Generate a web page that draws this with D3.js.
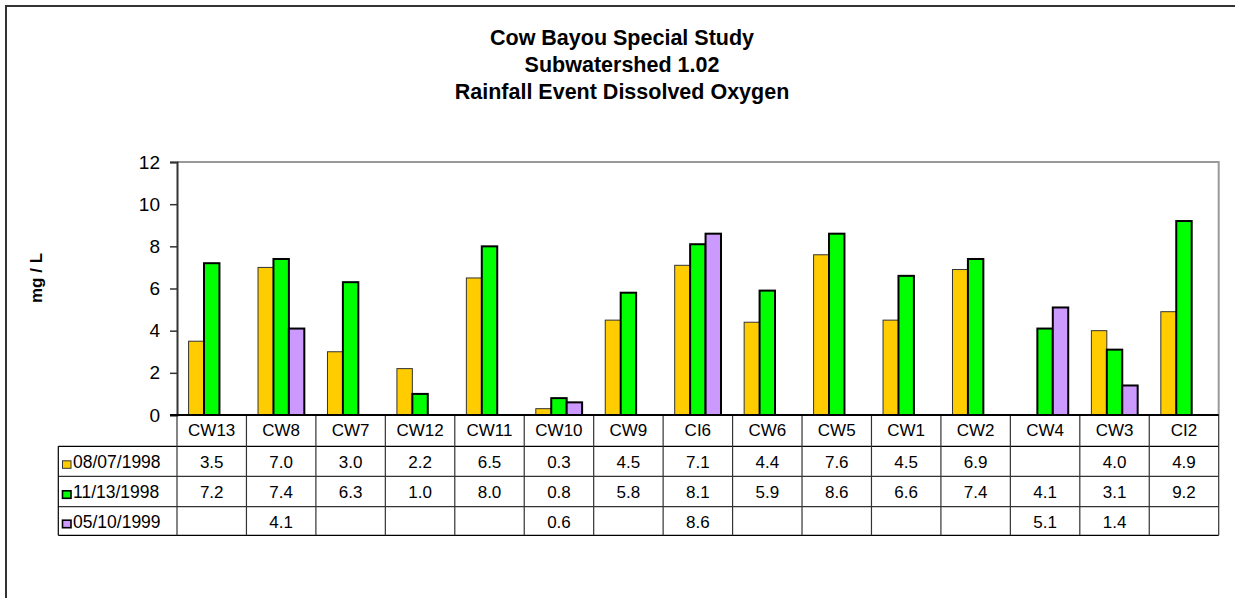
<!DOCTYPE html>
<html>
<head>
<meta charset="utf-8">
<script src="https://cdn.jsdelivr.net/npm/d3@7"></script>
<style>
  html, body { margin: 0; padding: 0; background: #fff; }
  svg { display: block; font-family: Arial, "Liberation Sans", sans-serif; }
</style>
</head>
<body>
<svg id="chart" width="1235" height="598"></svg>
<script>
// ---- data ----
const categories = ["CW13","CW8","CW7","CW12","CW11","CW10","CW9","CI6","CW6","CW5","CW1","CW2","CW4","CW3","CI2"];
const seriesNames = ["08/07/1998","11/13/1998","05/10/1999"];
const s1 = [3.5, 7.0, 3.0, 2.2, 6.5, 0.3, 4.5, 7.1, 4.4, 7.6, 4.5, 6.9, null, 4.0, 4.9];
const s2 = [7.2, 7.4, 6.3, 1.0, 8.0, 0.8, 5.8, 8.1, 5.9, 8.6, 6.6, 7.4, 4.1, 3.1, 9.2];
const s3 = [null, 4.1, null, null, null, 0.6, null, 8.6, null, null, null, null, 5.1, 1.4, null];
const yTicks = [0, 2, 4, 6, 8, 10, 12];
const titleLines = ["Cow Bayou Special Study", "Subwatershed 1.02", "Rainfall Event Dissolved Oxygen"];
const yTitle = "mg / L";

const seriesValues = [s1, s2, s3];
const fills = ["#FFCC00", "#00FF00", "#CC99FF"];
const strokes = ["#333", "#000", "#000"];
const strokeW = [1, 2, 2];

// ---- layout ----
const svg = d3.select("#chart");
const L = 177, R = 1218.7, T = 162, B = 415;
const legendLeft = 58.3;
const rowLines = [446.3, 476.3, 506.7, 535.3];

// outer border
svg.append("rect").attr("x", 6).attr("y", 6).attr("width", 1300).attr("height", 700)
  .attr("fill", "none").attr("stroke", "#333").attr("stroke-width", 2);

// title
svg.append("g").selectAll("text").data(titleLines).join("text")
  .attr("x", 622).attr("y", (d, i) => 44.5 + i * 27)
  .attr("text-anchor", "middle").attr("font-weight", "bold").attr("font-size", 21.5)
  .attr("fill", "#000").text(d => d);

// scales
const x = d3.scaleBand().domain(categories).range([L, R]).paddingInner(0).paddingOuter(0);
const y = d3.scaleLinear().domain([0, 12]).range([B, T]);
const bw = x.bandwidth();
const barW = bw / (3 + 1.5);
const xs = d3.scaleBand().domain([0, 1, 2]).range([bw * 0.75 / 4.5 * 1.5 / 1.5 * 0 + barW * 0.75, barW * 0.75 + 3 * barW]).padding(0);

// plot area border (top/right gray)
svg.append("path")
  .attr("d", `M${L},${T}H${R}V${B}`)
  .attr("fill", "none").attr("stroke", "#999").attr("stroke-width", 2);

// bars
const bars = svg.append("g");
seriesValues.forEach((vals, si) => {
  bars.append("g").selectAll("rect")
    .data(vals.map((v, i) => ({ v, c: categories[i] })).filter(d => d.v !== null))
    .join("rect")
    .attr("x", d => x(d.c) + xs(si))
    .attr("y", d => y(d.v))
    .attr("width", xs.bandwidth())
    .attr("height", d => y(0) - y(d.v))
    .attr("fill", fills[si])
    .attr("stroke", strokes[si])
    .attr("stroke-width", strokeW[si]);
});

// y axis
const yAxis = d3.axisLeft(y).tickValues(yTicks).tickSize(7).tickPadding(10).tickFormat(d3.format("d"));
const gy = svg.append("g").attr("transform", `translate(${L},0)`).call(yAxis);
gy.select(".domain").attr("stroke", "#333").attr("stroke-width", 2);
gy.selectAll(".tick line").attr("stroke", "#333").attr("stroke-width", 1.5);
gy.selectAll(".tick text").attr("font-size", 19).attr("fill", "#000")
  .attr("font-family", "Arial, 'Liberation Sans', sans-serif");

// y title
svg.append("text")
  .attr("transform", `translate(42,278) rotate(-90)`)
  .attr("text-anchor", "middle").attr("font-weight", "bold").attr("font-size", 17)
  .text(yTitle);

// ---- data table ----
const tbl = svg.append("g");
const lineColor = "#333";
// horizontal row lines
rowLines.forEach((ry, i) => {
  tbl.append("line").attr("x1", legendLeft).attr("x2", R).attr("y1", ry).attr("y2", ry)
    .attr("stroke", i === 0 || i === rowLines.length - 1 ? "#000" : lineColor).attr("stroke-width", 1.2);
});
// vertical lines at category boundaries
const bounds = categories.map(c => x(c)).concat([R]);
tbl.selectAll("line.v").data(bounds).join("line")
  .attr("class", "v")
  .attr("x1", d => d).attr("x2", d => d)
  .attr("y1", B).attr("y2", rowLines[3])
  .attr("stroke", lineColor).attr("stroke-width", 1.2);
// legend column left edge
tbl.append("line").attr("x1", legendLeft).attr("x2", legendLeft)
  .attr("y1", rowLines[0]).attr("y2", rowLines[3]).attr("stroke", "#000").attr("stroke-width", 1.2);

// zero axis line
svg.append("line").attr("x1", L - 7).attr("x2", R).attr("y1", B).attr("y2", B)
  .attr("stroke", "#000").attr("stroke-width", 2);

// header labels
tbl.selectAll("text.cat").data(categories).join("text")
  .attr("class", "cat")
  .attr("x", d => x(d) + bw / 2).attr("y", 436)
  .attr("text-anchor", "middle").attr("font-size", 17).text(d => d);

// value rows
const baselines = [468.3, 498.3, 527.7];
seriesValues.forEach((vals, si) => {
  tbl.append("g").selectAll("text")
    .data(vals.map((v, i) => ({ v, c: categories[i] })).filter(d => d.v !== null))
    .join("text")
    .attr("x", d => x(d.c) + bw / 2).attr("y", baselines[si])
    .attr("text-anchor", "middle").attr("font-size", 17)
    .text(d => d3.format(".1f")(d.v));
  // legend key
  tbl.append("rect").attr("x", 62.5).attr("y", baselines[si] - 7.5)
    .attr("width", 8.5).attr("height", 7.5)
    .attr("fill", fills[si]).attr("stroke", strokes[si]).attr("stroke-width", si === 0 ? 1 : 1.6);
  tbl.append("text").attr("x", 73).attr("y", baselines[si])
    .attr("font-size", 17.5).text(seriesNames[si]);
});
</script>
</body>
</html>
